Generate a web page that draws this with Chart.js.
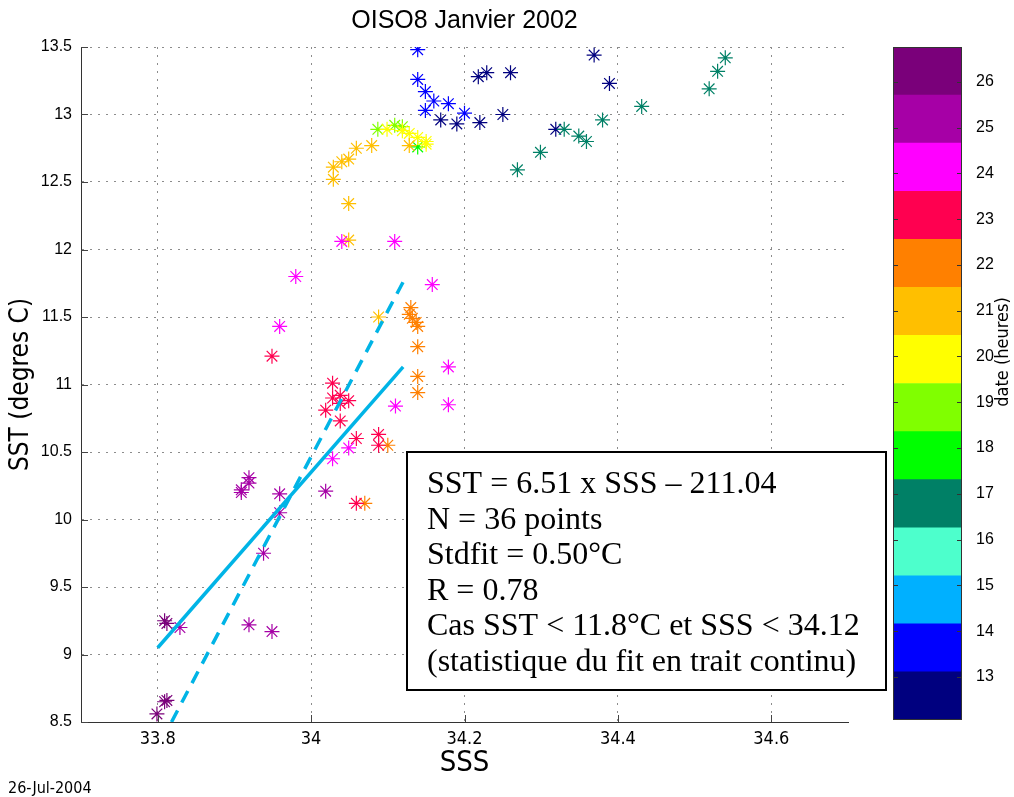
<!DOCTYPE html>
<html><head><meta charset="utf-8">
<script src="https://cdn.jsdelivr.net/npm/chart.js@4.4.1/dist/chart.umd.min.js"></script>
<style>
html,body{margin:0;padding:0;background:#fff;}
#wrap{position:relative;width:1014px;height:797px;overflow:hidden;background:#fff;}
#main{position:absolute;left:0;top:0;width:1014px;height:797px;}
#cb{position:absolute;left:888px;top:0;width:126px;height:797px;}
</style></head><body>
<div id="wrap">
<canvas id="main" width="1014" height="797"></canvas>
<canvas id="cb" width="126" height="797"></canvas>
</div>
<script>
// ---- data ----
const sss = [
  34.169,34.190,34.220,34.250,34.218,34.229,34.260,34.369,34.389,34.319,
  34.139,34.139,34.149,34.160,34.179,34.149,34.200,
  34.269,34.299,34.330,34.349,34.359,34.380,34.431,34.519,34.530,34.540,
  34.139,
  34.087,34.109,34.119,
  34.099,34.119,34.128,34.139,34.150,34.150,
  34.029,34.029,34.040,34.049,34.059,34.079,34.128,34.049,34.049,34.088,
  34.130,34.128,34.132,34.137,34.139,34.139,34.139,34.139,34.100,34.070,
  33.949,34.028,34.028,34.038,34.049,34.038,34.019,34.038,34.059,34.088,34.088,34.059,
  34.040,34.109,33.980,33.959,34.158,34.179,34.179,34.110,34.049,34.028,
  33.919,33.919,33.909,33.909,33.959,33.959,34.019,33.938,33.829,33.919,33.949,
  33.809,33.812,33.809,33.812,33.799
];
const sst = [
  12.96,12.93,12.94,13.00,13.28,13.31,13.31,13.44,13.23,12.89,
  13.48,13.26,13.17,13.10,13.08,13.03,13.01,
  12.59,12.72,12.89,12.84,12.80,12.96,13.06,13.19,13.32,13.42,
  12.76,
  12.89,12.92,12.91,
  12.89,12.88,12.86,12.83,12.80,12.78,
  12.52,12.61,12.65,12.67,12.75,12.77,12.77,12.34,12.07,11.50,
  11.57,11.52,11.49,11.46,11.43,11.28,11.06,10.94,10.55,10.12,
  11.21,11.01,10.90,10.92,10.88,10.86,10.81,10.73,10.60,10.63,10.55,10.12,
  12.06,12.06,11.80,11.43,11.74,11.13,10.85,10.84,10.53,10.45,
  10.31,10.27,10.22,10.20,10.19,10.05,10.21,9.75,9.20,9.22,9.17,
  9.25,9.23,8.65,8.66,8.56
];
const hour = [
  13,13,13,13,13,13,13,13,13,13,
  14,14,14,14,14,14,14,
  17,17,17,17,17,17,17,17,17,17,
  18,
  19,19,19,
  20,20,20,20,20,20,
  21,21,21,21,21,21,21,21,21,21,
  22,22,22,22,22,22,22,22,22,22,
  23,23,23,23,23,23,23,23,23,23,23,23,
  24,24,24,24,24,24,24,24,24,24,
  25,25,25,25,25,25,25,25,25,25,25,
  26,26,26,26,26
];
const fitSolidX = [33.80, 34.12];
const fitSolidY = [9.05, 11.13];
const fitDashX = [33.818, 34.12];
const fitDashY = [8.50, 11.76];
const xTicks = [33.8, 34, 34.2, 34.4, 34.6];
const yTicks = [8.5, 9, 9.5, 10, 10.5, 11, 11.5, 12, 12.5, 13, 13.5];
const cbTicks = [13,14,15,16,17,18,19,20,21,22,23,24,25,26];
const cbColors = ['#00007f','#0000ff','#00b0ff','#4dffcc','#008066','#00ff00','#80ff00',
                  '#ffff00','#ffbf00','#ff8000','#ff0050','#ff00ff','#a600a6','#7a007a'];
const cbMin = 12.06, cbMax = 26.76;
const statLines = [
  'SST = 6.51 x SSS \u2013 211.04',
  'N = 36 points',
  'Stdfit = 0.50\u00b0C',
  'R = 0.78',
  'Cas SST < 11.8\u00b0C et SSS < 34.12',
  '(statistique du fit en trait continu)'
];

// ---- styling ----
const NARROW = '"Liberation Sans Narrow", "DejaVu Sans Condensed", "Arial Narrow", sans-serif';
const SANS = '"Liberation Sans", Arial, Helvetica, sans-serif';
const SERIF = '"Liberation Serif", "Times New Roman", serif';
const fitColor = '#00b4e6';
const gridColor = '#8c8c8c';

function cmap(h){
  let i = Math.floor((h - cbMin) / (cbMax - cbMin) * cbColors.length);
  i = Math.max(0, Math.min(cbColors.length - 1, i));
  return cbColors[i];
}
const pts = sss.map((x, i) => ({x: x, y: sst[i]}));
const ptColors = hour.map(cmap);

const decor = {
  id: 'decor',
  afterDraw(chart){
    const ctx = chart.ctx, xs = chart.scales.x, ys = chart.scales.y, a = chart.chartArea;
    ctx.save();
    // inward tick marks
    ctx.strokeStyle = '#444'; ctx.lineWidth = 1;
    ctx.beginPath();
    yTicks.forEach(v => { const p = Math.round(ys.getPixelForValue(v)) + 0.5; ctx.moveTo(a.left, p); ctx.lineTo(a.left + 7, p); });
    xTicks.forEach(v => { const p = Math.round(xs.getPixelForValue(v)) + 0.5; ctx.moveTo(p, a.bottom); ctx.lineTo(p, a.bottom - 7); });
    ctx.stroke();
    // title
    ctx.fillStyle = '#000';
    ctx.font = '25px ' + SANS;
    ctx.textAlign = 'center'; ctx.textBaseline = 'middle';
    ctx.fillText('OISO8 Janvier 2002', (a.left + a.right) / 2, 21);
    // date stamp
    ctx.font = '16px ' + NARROW;
    ctx.textAlign = 'left'; ctx.textBaseline = 'alphabetic';
    ctx.fillText('26-Jul-2004', 8, 793);
    // statistics box
    ctx.fillStyle = '#fff';
    ctx.fillRect(406, 451, 481, 240);
    ctx.strokeStyle = '#000'; ctx.lineWidth = 2;
    ctx.strokeRect(407, 452, 479, 238);
    ctx.fillStyle = '#000';
    ctx.font = '32px ' + SERIF;
    statLines.forEach((t, i) => ctx.fillText(t, 427, 493 + i * 35.6));
    ctx.restore();
  }
};

new Chart(document.getElementById('main'), {
  type: 'scatter',
  data: { datasets: [
    { type: 'line', data: fitSolidX.map((x, i) => ({x: x, y: fitSolidY[i]})), borderColor: fitColor,
      borderWidth: 3.5, pointRadius: 0, fill: false, showLine: true, borderCapStyle: 'butt' },
    { type: 'line', data: fitDashX.map((x, i) => ({x: x, y: fitDashY[i]})), borderColor: fitColor,
      borderWidth: 3.5, borderDash: [13, 9], pointRadius: 0, fill: false, showLine: true, borderCapStyle: 'butt' },
    { data: pts, pointStyle: 'star', pointRadius: 7.5, pointBorderWidth: 1.2,
      pointBorderColor: ptColors, pointBackgroundColor: ptColors, showLine: false }
  ]},
  options: {
    responsive: false, animation: false, devicePixelRatio: 1,
    layout: { padding: { top: 47, right: 166, left: 0, bottom: 0 } },
    plugins: { legend: { display: false }, tooltip: { enabled: false }, title: { display: false } },
    scales: {
      x: {
        type: 'linear', min: 33.7, max: 34.7,
        afterBuildTicks: s => { s.ticks = xTicks.map(v => ({value: v})); },
        afterFit: s => { s.height = 75; },
        ticks: { callback: v => String(v), font: { family: NARROW, size: 18 }, color: '#000', padding: 7, maxRotation: 0, autoSkip: false },
        grid: { color: gridColor, lineWidth: 1, drawTicks: false },
        border: { display: true, color: '#333', width: 1, dash: [2, 6] },
        title: { display: true, text: 'SSS', font: { family: NARROW, size: 29 }, color: '#000', padding: { top: 0, bottom: 16 } }
      },
      y: {
        type: 'linear', min: 8.5, max: 13.5,
        afterBuildTicks: s => { s.ticks = yTicks.map(v => ({value: v})); },
        afterFit: s => { s.width = 81; },
        ticks: { callback: v => String(v), font: { family: SANS, size: 16 }, color: '#000', padding: 9, autoSkip: false },
        grid: { color: gridColor, lineWidth: 1, drawTicks: false },
        border: { display: true, color: '#333', width: 1, dash: [2, 6] },
        title: { display: true, text: 'SST (degres C)', font: { family: NARROW, size: 26 }, color: '#000', padding: { top: 6, bottom: 0 } }
      }
    }
  },
  plugins: [decor]
});

const cbDecor = {
  id: 'cbDecor',
  afterDraw(chart){
    const ctx = chart.ctx, a = chart.chartArea, ys = chart.scales.y;
    ctx.save();
    ctx.strokeStyle = '#333'; ctx.lineWidth = 1;
    ctx.strokeRect(a.left + 0.5, a.top + 0.5, a.right - a.left - 1, a.bottom - a.top - 1);
    ctx.beginPath();
    cbTicks.forEach(v => {
      const p = Math.round(ys.getPixelForValue(v)) + 0.5;
      ctx.moveTo(a.left, p); ctx.lineTo(a.left + 5, p);
      ctx.moveTo(a.right, p); ctx.lineTo(a.right - 5, p);
    });
    ctx.stroke();
    ctx.translate(115, 352);
    ctx.rotate(-Math.PI / 2);
    ctx.fillStyle = '#000';
    ctx.font = '18px ' + NARROW;
    ctx.textAlign = 'center'; ctx.textBaseline = 'middle';
    ctx.fillText('date (heures)', 0, 0);
    ctx.restore();
  }
};

const cbStep = (cbMax - cbMin) / cbColors.length;
new Chart(document.getElementById('cb'), {
  type: 'bar',
  data: { labels: [''], datasets: cbColors.map((c, i) => ({
    data: [[cbMin + i * cbStep, cbMin + (i + 1) * cbStep]], backgroundColor: c, borderWidth: 0,
    grouped: false, barPercentage: 1, categoryPercentage: 1 })) },
  options: {
    responsive: false, animation: false, devicePixelRatio: 1,
    layout: { padding: { left: 5, top: 47, bottom: 77, right: 0 } },
    plugins: { legend: { display: false }, tooltip: { enabled: false } },
    scales: {
      x: { display: false },
      y: { position: 'right', min: cbMin, max: cbMax,
        afterBuildTicks: s => { s.ticks = cbTicks.map(v => ({value: v})); },
        afterFit: s => { s.width = 52; },
        ticks: { callback: v => String(v), font: { family: SANS, size: 16 }, color: '#000', padding: 6, autoSkip: false },
        grid: { display: false }, border: { display: false } }
    }
  },
  plugins: [cbDecor]
});
</script>
</body></html>
